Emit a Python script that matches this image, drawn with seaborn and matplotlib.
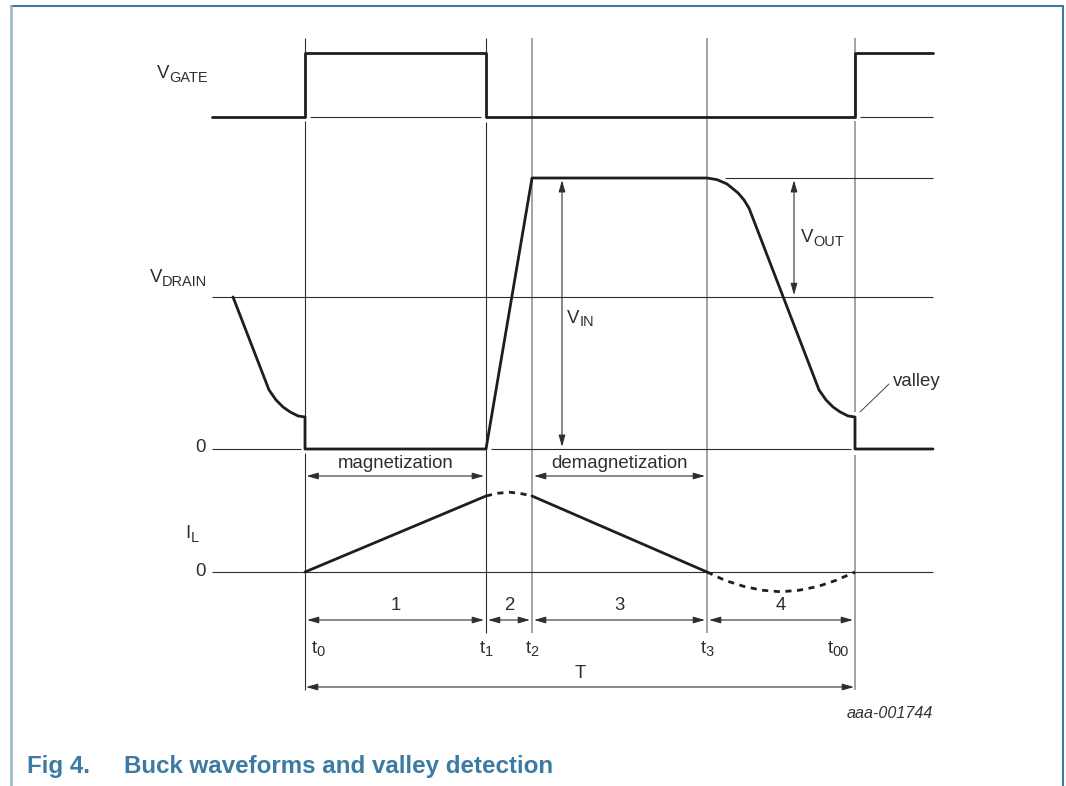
import matplotlib
matplotlib.use("Agg")
import matplotlib.pyplot as plt
import seaborn as sns

sns.set_theme(style="white")
plt.rcParams["font.family"] = ["Liberation Sans", "DejaVu Sans"]

# ------------------------------------------------------------------ data
# time axis in arbitrary units (T = 550), t0 = 0
time_names = [("t", "0"), ("t", "1"), ("t", "2"), ("t", "3"), ("t", "00")]
time_marks = [0, 181, 227, 402, 550]
interval_labels = ["1", "2", "3", "4"]
t_start, t_end = -93, 628

# gate drive (logic level 0 / 1)
gate_t = [-93, 0, 0, 181, 181, 550, 550, 628]
gate_v = [0, 0, 1, 1, 0, 0, 1, 1]

# drain voltage, in units of V_IN
VIN = 1.0
VOUT = 0.44
drain_t = [-72, -36, -29, -22, -15, -7, 0, 0, 181, 227, 402, 412, 422, 433, 439,
           444, 514, 521, 528, 535, 543, 550, 550, 628]
drain_v = [0.561, 0.218, 0.181, 0.155, 0.137, 0.122, 0.118, 0.0, 0.0, 1.0, 1.0,
           0.994, 0.978, 0.945, 0.919, 0.889, 0.218, 0.181, 0.155, 0.137, 0.122,
           0.118, 0.0, 0.0]

# inductor current, normalised to its value at t1
il_up_t = [0, 181]
il_up_v = [0.0, 1.0]
il_down_t = [227, 402]
il_down_v = [1.0, 0.0]
il_arc1_t = [181, 192, 204, 215, 227]
il_arc1_v = [1.0, 1.035, 1.05, 1.035, 1.0]
il_arc2_t = [402, 420, 439, 457, 476, 494, 513, 531, 550]
il_arc2_v = [0.0, -0.11, -0.19, -0.24, -0.26, -0.24, -0.19, -0.11, 0.0]

# ------------------------------------------------------------------ layout
W, H = 1066, 786
X0_PIX = 305                      # pixel column of t0
XLIM = (-X0_PIX, W - X0_PIX)
THICK = "#1e1e1e"
THIN = "#2e2e2e"
GRAY = "#8a8a8a"
BLUE = "#3b7ba3"
FS = 13.4
FS_SUB = FS * 0.78

fig = plt.figure(figsize=(W / 100, H / 100), dpi=100)
renderer = fig.canvas.get_renderer()


def trace_axes(pix0, pix1):
    """Axes over the whole figure; value 0 -> pixel row pix0, 1 -> pix1."""
    ax = fig.add_axes([0, 0, 1, 1])
    ax.set_xlim(*XLIM)
    h0, h1 = H - pix0, H - pix1
    s = h1 - h0
    ax.set_ylim(-h0 / s, (H - h0) / s)
    ax.axis("off")
    ax.patch.set_alpha(0)
    return ax


ax_ann = fig.add_axes([0, 0, 1, 1])
ax_ann.set_xlim(*XLIM)
ax_ann.set_ylim(H, 0)
ax_ann.axis("off")

ax_gate = trace_axes(117, 53)
ax_drain = trace_axes(449, 178)
ax_il = trace_axes(572, 496)

lw_thin = 0.8
lw_thick = 2.0


def text_width(s, size):
    t = ax_ann.text(0, 0, s, fontsize=size)
    w = t.get_window_extent(renderer).width
    t.remove()
    return w


def sub_text(x, base_y, base, sub, ha="left", sub_drop=3.5):
    wb = text_width(base, FS)
    ws = text_width(sub, FS_SUB)
    total = wb + ws
    left = {"left": x, "right": x - total, "center": x - total / 2}[ha]
    ax_ann.text(left, base_y, base, ha="left", va="baseline", fontsize=FS, color=THIN)
    ax_ann.text(left + wb, base_y + sub_drop, sub, ha="left", va="baseline",
                fontsize=FS_SUB, color=THIN)


# ---- thin reference lines
ax_gate.hlines(0, 5, 176, color=THIN, lw=lw_thin)
ax_gate.hlines(0, 555, t_end, color=THIN, lw=lw_thin)
ax_drain.hlines(VIN, 420, t_end, color=THIN, lw=lw_thin)
ax_drain.hlines(VIN - VOUT, t_start, t_end, color=THIN, lw=lw_thin)
ax_drain.hlines(0, t_start, -4, color=THIN, lw=lw_thin)
ax_drain.hlines(0, 186, 546, color=THIN, lw=lw_thin)
ax_il.hlines(0, t_start, t_end, color=THIN, lw=lw_thin)

# ---- vertical time markers (pixel rows for segments)
vsegs = [
    [(38, 117), (121, 449), (453, 690)],
    [(38, 117), (122, 633)],
    [(38, 633)],
    [(38, 633)],
    [(38, 117), (121, 412), (455, 690)],
]
vcolors = [THIN, THIN, GRAY, GRAY, GRAY]
vlw = [0.8, 0.8, 1.1, 1.1, 1.1]
for t, segs, c, lw in zip(time_marks, vsegs, vcolors, vlw):
    for a, b in segs:
        ax_ann.vlines(t, a, b, color=c, lw=lw)

# ---- waveforms
sns.lineplot(x=gate_t, y=gate_v, ax=ax_gate, sort=False, estimator=None,
             color=THICK, lw=lw_thick)
sns.lineplot(x=drain_t, y=drain_v, ax=ax_drain, sort=False, estimator=None,
             color=THICK, lw=lw_thick)
for tt, vv, ls in [(il_up_t, il_up_v, "-"), (il_down_t, il_down_v, "-"),
                   (il_arc1_t, il_arc1_v, (0, (2.2, 2.0))),
                   (il_arc2_t, il_arc2_v, (0, (2.2, 2.0)))]:
    sns.lineplot(x=tt, y=vv, ax=ax_il, sort=False, estimator=None,
                 color=THICK, lw=lw_thick, linestyle=ls)


# ---- arrows
def darrow(ax, p, q, color=THIN):
    ax.annotate("", xy=q, xytext=p,
                arrowprops=dict(arrowstyle="<|-|>,head_length=0.7,head_width=0.2",
                                mutation_scale=10, color=color, lw=0.8,
                                shrinkA=0, shrinkB=0))


darrow(ax_drain, (257, 0.008), (257, VIN - 0.008))
darrow(ax_drain, (489, VIN - VOUT + 0.008), (489, VIN - 0.008))

row_phase, row_int, row_T = 476, 620, 687
darrow(ax_ann, (time_marks[0] + 1.5, row_phase), (time_marks[1] - 2, row_phase))
darrow(ax_ann, (time_marks[2] + 2, row_phase), (time_marks[3] - 2, row_phase))
for i, lab in enumerate(interval_labels):
    a, b = time_marks[i], time_marks[i + 1]
    darrow(ax_ann, (a + 2, row_int), (b - 2, row_int))
    ax_ann.text((a + b) / 2, 606, lab, ha="center", va="center", fontsize=FS, color=THIN)
darrow(ax_ann, (time_marks[0] + 1, row_T), (time_marks[-1] - 1, row_T))
ax_ann.text((time_marks[0] + time_marks[-1]) / 2, 673, "T", ha="center", va="center",
            fontsize=FS, color=THIN)

ax_ann.text((time_marks[0] + time_marks[1]) / 2, 463, "magnetization", ha="center",
            va="center", fontsize=FS, color=THIN)
ax_ann.text((time_marks[2] + time_marks[3]) / 2, 463, "demagnetization", ha="center",
            va="center", fontsize=FS, color=THIN)

# time labels
t_offsets = [13, 0, 0, 0, -17]
for t, (b, s), off in zip(time_marks, time_names, t_offsets):
    sub_text(t + off, 653, b, s, ha="center", sub_drop=3.5)

# signal labels
sub_text(208 - X0_PIX, 78.5, "V", "GATE", ha="right")
sub_text(207 - X0_PIX, 282, "V", "DRAIN", ha="right")
ax_ann.text(206 - X0_PIX, 448, "0", ha="right", va="center", fontsize=FS, color=THIN)
sub_text(199 - X0_PIX, 538, "I", "L", ha="right")
ax_ann.text(206 - X0_PIX, 571, "0", ha="right", va="center", fontsize=FS, color=THIN)
sub_text(567 - X0_PIX, 323, "V", "IN", ha="left")
sub_text(801 - X0_PIX, 242, "V", "OUT", ha="left")
ax_ann.text(893 - X0_PIX, 381, "valley", ha="left", va="center", fontsize=FS, color=THIN)
ax_ann.plot([860 - X0_PIX, 889 - X0_PIX], [412, 384], color="#444444", lw=0.7)

ax_ann.text(933 - X0_PIX, 713, "aaa-001744", ha="right", va="center", fontsize=11.6,
            style="italic", color="#333333")

# caption
ax_ann.text(27 - X0_PIX, 767, "Fig 4.", ha="left", va="center", fontsize=17.4,
            fontweight="bold", color=BLUE)
ax_ann.text(124 - X0_PIX, 767, "Buck waveforms and valley detection", ha="left",
            va="center", fontsize=17.4, fontweight="bold", color=BLUE)

# frame
ax_ann.plot([11 - X0_PIX, 1063 - X0_PIX], [6, 6], color=BLUE, lw=1.5, clip_on=False)
ax_ann.plot([1063 - X0_PIX, 1063 - X0_PIX], [6, H], color=BLUE, lw=1.5, clip_on=False)
ax_ann.plot([11 - X0_PIX, 11 - X0_PIX], [6, H], color="#9dbdd3", lw=2, clip_on=False)

fig.savefig("out.png", dpi=100)
